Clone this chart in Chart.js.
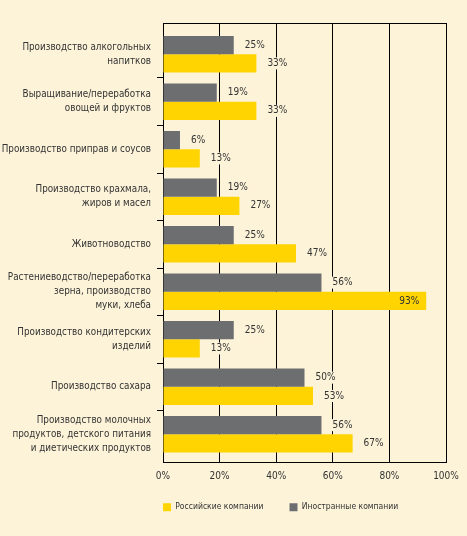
<!DOCTYPE html>
<html><head><meta charset="utf-8">
<script src="https://cdn.jsdelivr.net/npm/chart.js@4.4.1/dist/chart.umd.min.js"></script>
<style>html,body{margin:0;padding:0;background:#FDF3D9;} #wrap{width:467px;height:536px;position:relative;}</style>
</head><body><div id="wrap"><canvas id="c"></canvas></div>
<script>
const categories = [
  ['Производство алкогольных', 'напитков'],
  ['Выращивание/переработка', 'овощей и фруктов'],
  ['Производство приправ и соусов'],
  ['Производство крахмала,', 'жиров и масел'],
  ['Животноводство'],
  ['Растениеводство/переработка', 'зерна, производство', 'муки, хлеба'],
  ['Производство кондитерских', 'изделий'],
  ['Производство сахара'],
  ['Производство молочных', 'продуктов, детского питания', 'и диетических продуктов']
];
const foreignValues = [25, 19, 6, 19, 25, 56, 25, 50, 56];
const russianValues = [33, 33, 13, 27, 47, 93, 13, 53, 67];
const seriesNames = ['Иностранные компании', 'Российские компании'];
const xTickValues = [0, 20, 40, 60, 80, 100];

const FONT = "'DejaVu Sans Condensed', 'Liberation Sans Narrow', 'DejaVu Sans', sans-serif";
const BG = '#FDF3D9', GRAY = '#6D6E70', YELLOW = '#FFD400', TEXT = '#333333';

const toPoints = arr => arr.map((v, i) => ({x: v, y: i}));

const bgFill = {
  id: 'bgFill',
  beforeDraw(chart) {
    const {ctx, width, height} = chart;
    ctx.save(); ctx.fillStyle = BG; ctx.fillRect(0, 0, width, height); ctx.restore();
    const lg = chart.legend;
    if (lg) {
      lg.left = chart.chartArea.left - lg.options.labels.padding;
      lg.top = chart.chartArea.bottom + 14.5;
    }
  }
};

const valueLabels = {
  id: 'valueLabels',
  afterDatasetsDraw(chart) {
    const ctx = chart.ctx;
    ctx.save();
    ctx.font = '10px ' + FONT;
    ctx.textBaseline = 'middle';
    chart.data.datasets.forEach((ds, di) => {
      const meta = chart.getDatasetMeta(di);
      meta.data.forEach((bar, i) => {
        const v = ds.data[i].x;
        const txt = v + '%';
        const w = ctx.measureText(txt).width;
        if (v > 85) {
          ctx.textAlign = 'right'; ctx.fillStyle = TEXT;
          ctx.fillText(txt, bar.x - 7, bar.y);
        } else {
          const x0 = bar.x + 11;
          ctx.fillStyle = BG; ctx.fillRect(x0 - 1, bar.y - 6, w + 2, 12);
          ctx.textAlign = 'left'; ctx.fillStyle = TEXT;
          ctx.fillText(txt, x0, bar.y);
        }
      });
    });
    ctx.restore();
  }
};

new Chart(document.getElementById('c'), {
  type: 'bar',
  data: {
    datasets: [
      {label: seriesNames[0], data: toPoints(foreignValues), backgroundColor: GRAY},
      {label: seriesNames[1], data: toPoints(russianValues), backgroundColor: YELLOW}
    ]
  },
  options: {
    indexAxis: 'y', responsive: true, maintainAspectRatio: false, animation: false,
    datasets: {bar: {categoryPercentage: 0.77, barPercentage: 1}},
    layout: {padding: {top: 23, right: 21, bottom: 1, left: 0}},
    scales: {
      x: {
        type: 'linear', position: 'bottom', min: 0, max: 100,
        afterBuildTicks: s => { s.ticks = xTickValues.map(v => ({value: v})); },
        ticks: {callback: v => v + '%', font: {family: FONT, size: 10}, color: TEXT, padding: 8},
        grid: {color: '#000', lineWidth: 1, drawTicks: false},
        border: {display: true, color: '#000'}
      },
      xTop: {
        type: 'linear', position: 'top', min: 0, max: 100,
        ticks: {display: false}, grid: {display: false, drawTicks: false},
        border: {display: true, color: '#000'}
      },
      y: {
        type: 'linear', reverse: true, offset: false, min: -0.657, max: 8.593,
        afterBuildTicks: s => { s.ticks = categories.map((_, i) => ({value: i})); },
        afterFit: s => { s.width = 163; s.paddingTop = 0; s.paddingBottom = 0; },
        ticks: {autoSkip: false, callback: v => categories[v], font: {family: FONT, size: 9.8, lineHeight: 1.42}, color: TEXT, padding: 6},
        grid: {drawOnChartArea: false, offset: true, tickLength: 6, color: '#000',
               tickColor: c => (c.index > 0 ? '#000' : 'rgba(0,0,0,0)')},
        border: {display: true, color: '#000'}
      }
    },
    plugins: {
      legend: {position: 'bottom', align: 'start', reverse: true,
        labels: {boxWidth: 8, boxHeight: 8, padding: 26, color: TEXT, font: {family: FONT, size: 8.5}}},
      tooltip: {enabled: false}
    }
  },
  plugins: [bgFill, valueLabels]
});
</script>
</body></html>
